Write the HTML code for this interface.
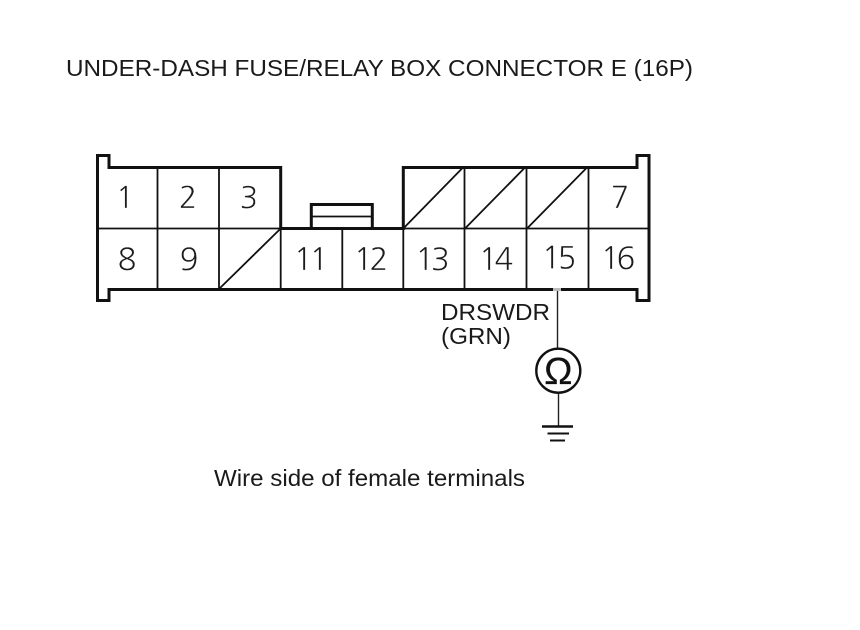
<!DOCTYPE html>
<html><head><meta charset="utf-8"><style>
html,body{margin:0;padding:0;background:#fff}
svg{display:block}
text{font-family:"Liberation Sans",sans-serif;fill:#1a1a1a}
text.n{font-family:"NanumGothic","Liberation Sans",sans-serif;font-size:31px;fill:#1c1c1c;text-anchor:middle;font-weight:normal;stroke:#fff;stroke-width:.2px}
text.t{letter-spacing:-3px}
.l{font-size:23px}
</style></head><body>
<svg width="860" height="630" viewBox="0 0 860 630" xmlns="http://www.w3.org/2000/svg">
<rect width="860" height="630" fill="#fff"/>
<text x="66" y="76" class="l" textLength="627" lengthAdjust="spacingAndGlyphs">UNDER-DASH FUSE/RELAY BOX CONNECTOR E (16P)</text>

<g fill="none" stroke="#111" stroke-width="3">
<path d="M109 167.5H280.7V228.5H403.3V167.5H637V155.5H649V300.5H637V289.5H109V300.5H97.5V155.5H109Z"/>
<path d="M311.3 228V204.5H372.3V228"/>
</g>
<g fill="none" stroke="#111" stroke-width="1.8">
<path d="M97 228.5H649"/>
<path d="M157.5 167V289M219 167V289M280.7 228V289M342.3 228V289M403.3 228V289M464.5 167V289M526.5 167V289M588.5 167V289"/>
<path d="M311.3 216.5H372.3"/>
<path d="M219 289L280.7 228.5M403.3 228.5L463 167.5M465 228.5L525 167.5M527 228.5L587 167.5"/>
</g>

<text class="n" x="125" y="208" style="font-size:30px">1</text>
<text class="n" x="188" y="208" style="font-size:30px">2</text>
<text class="n" x="249" y="208" style="font-size:30px">3</text>
<text class="n" x="620" y="208" style="font-size:30px">7</text>
<text class="n" x="127" y="270">8</text>
<text class="n" x="189" y="270">9</text>
<text class="n t" x="309.5" y="270">11</text>
<text class="n t" x="369.5" y="270">12</text>
<text class="n t" x="431" y="270">13</text>
<text class="n t" x="494.5" y="270">14</text>
<text class="n t" x="557.5" y="268.5">15</text>
<text class="n t" x="616.5" y="269">16</text>

<text x="441" y="320" class="l" textLength="109" lengthAdjust="spacingAndGlyphs">DRSWDR</text>
<text x="441" y="344" class="l" textLength="70" lengthAdjust="spacingAndGlyphs">(GRN)</text>

<rect x="553" y="288" width="8" height="3" fill="#bbb"/>
<path d="M557.5 291V349" stroke="#222" stroke-width="1.4" fill="none"/>
<path d="M558.5 393V426" stroke="#222" stroke-width="1.4" fill="none"/>
<circle cx="558.3" cy="370.7" r="22" fill="#fff" stroke="#111" stroke-width="2.4"/>
<text x="558.3" y="384" text-anchor="middle" style="font-size:38px;font-weight:normal;fill:#111;stroke:#111;stroke-width:.2px">Ω</text>
<path d="M542 426.5H573" stroke="#111" stroke-width="2.6"/>
<path d="M547.5 433.5H569" stroke="#111" stroke-width="2"/>
<path d="M550 440.5H565" stroke="#111" stroke-width="2"/>

<text x="214" y="486" class="l" textLength="311" lengthAdjust="spacingAndGlyphs">Wire side of female terminals</text>
</svg>
</body></html>
